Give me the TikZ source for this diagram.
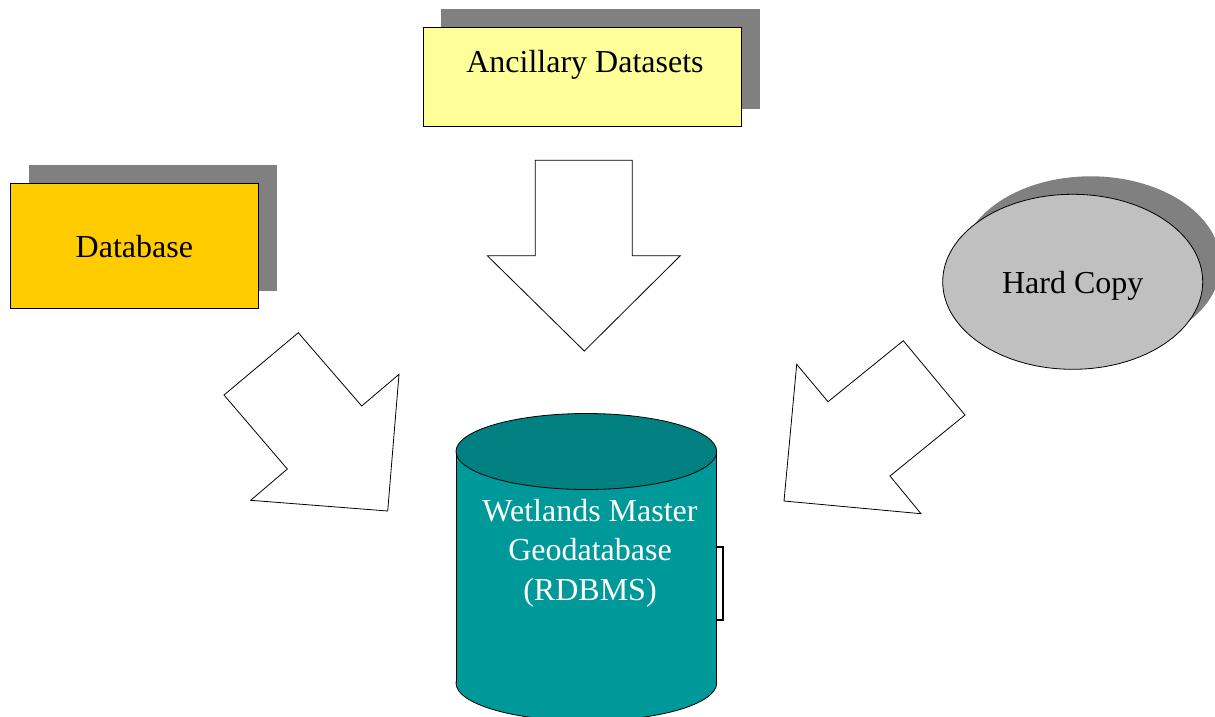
\documentclass[tikz,border=0pt]{standalone}
\usepackage{fontspec}
\setmainfont{Liberation Serif}
\usetikzlibrary{shapes.geometric}
\definecolor{shadowgray}{HTML}{808080}
\definecolor{ancfill}{HTML}{FFFF99}
\definecolor{dbfill}{HTML}{FFCC00}
\definecolor{hcfill}{HTML}{C0C0C0}
\definecolor{cylside}{HTML}{009999}
\definecolor{cyltop}{HTML}{008080}
\tikzset{
  outline/.style={draw=black, line width=0.8pt},
  shadowbox/.style={fill=shadowgray, draw=none, anchor=north west, inner sep=0pt},
  srcbox/.style={outline, anchor=north west, inner sep=0pt},
  lbl/.style={font=\fontsize{32}{39.5}\selectfont, align=center, inner sep=0pt},
  blockarrow/.style={outline, fill=white, line join=miter},
}
\begin{document}
\begin{tikzpicture}[x=1pt,y=-1pt]
\useasboundingbox (0,0) rectangle (1215,716);

% Ancillary Datasets
\node[shadowbox, minimum width=318.3pt, minimum height=99.3pt] (ancS) at (441,9) {};
\node[srcbox, fill=ancfill, minimum width=318pt, minimum height=99.3pt] (anc) at (422.7,26.7) {};
\node[lbl] (ancT) at (585,65) {Ancillary Datasets};

% Database
\node[shadowbox, minimum width=248.3pt, minimum height=126pt] (dbS) at (28.7,165) {};
\node[srcbox, fill=dbfill, minimum width=247.3pt, minimum height=125.6pt] (dbbox) at (10.3,182.7) {};
\node[lbl] (dbT) at ([yshift=-1pt]dbbox.center) {Database};

% Hard Copy
\fill[shadowgray] (1090.7,263.8) ellipse [x radius=130, y radius=87.5];
\node[ellipse, outline, fill=hcfill, minimum width=260pt, minimum height=175pt, inner sep=0pt] (hc) at (1072.7,281.8) {};
\node[lbl] (hcT) at ([yshift=-4pt]hc.center) {Hard Copy};

% Block arrows
\draw[blockarrow] (535.3,160.3) -- (632.3,160.3) -- (632.3,255.7) -- (680.3,255.7)
  -- (584.3,351) -- (487.3,255.7) -- (535.3,255.7) -- cycle;
\draw[blockarrow] (224,395) -- (298.3,332.7) -- (361.7,406) -- (399,374.3)
  -- (387.7,511) -- (250.7,500.3) -- (287.3,469) -- cycle;
\draw[blockarrow] (796.7,364.3) -- (828,401.7) -- (903.3,340.7) -- (965,415)
  -- (890,476) -- (921,513.7) -- (784,501) -- cycle;

% Cylinder
\filldraw[fill=cylside, draw=black, line width=0.8pt] (586.35,683) ellipse [x radius=130.35, y radius=38];
\fill[cylside] (456,451.5) rectangle (716.7,683);
\draw[line width=0.8pt] (456,451.5) -- (456,683);
\draw[line width=0.8pt] (716.7,451.5) -- (716.7,683);
\filldraw[fill=cyltop, draw=black, line width=0.8pt] (586.35,451.5) ellipse [x radius=130.35, y radius=38];
\node[lbl, text=white] (cylT) at (590,553) {Wetlands Master\\Geodatabase\\(RDBMS)};
\coordinate (brA) at (716.7,547);
\coordinate (brB) at (716.7,619.5);
\draw[line width=2pt] (brA) -- ++(6,0) -- ++(0,72.5) -- (brB);
\end{tikzpicture}
\end{document}
